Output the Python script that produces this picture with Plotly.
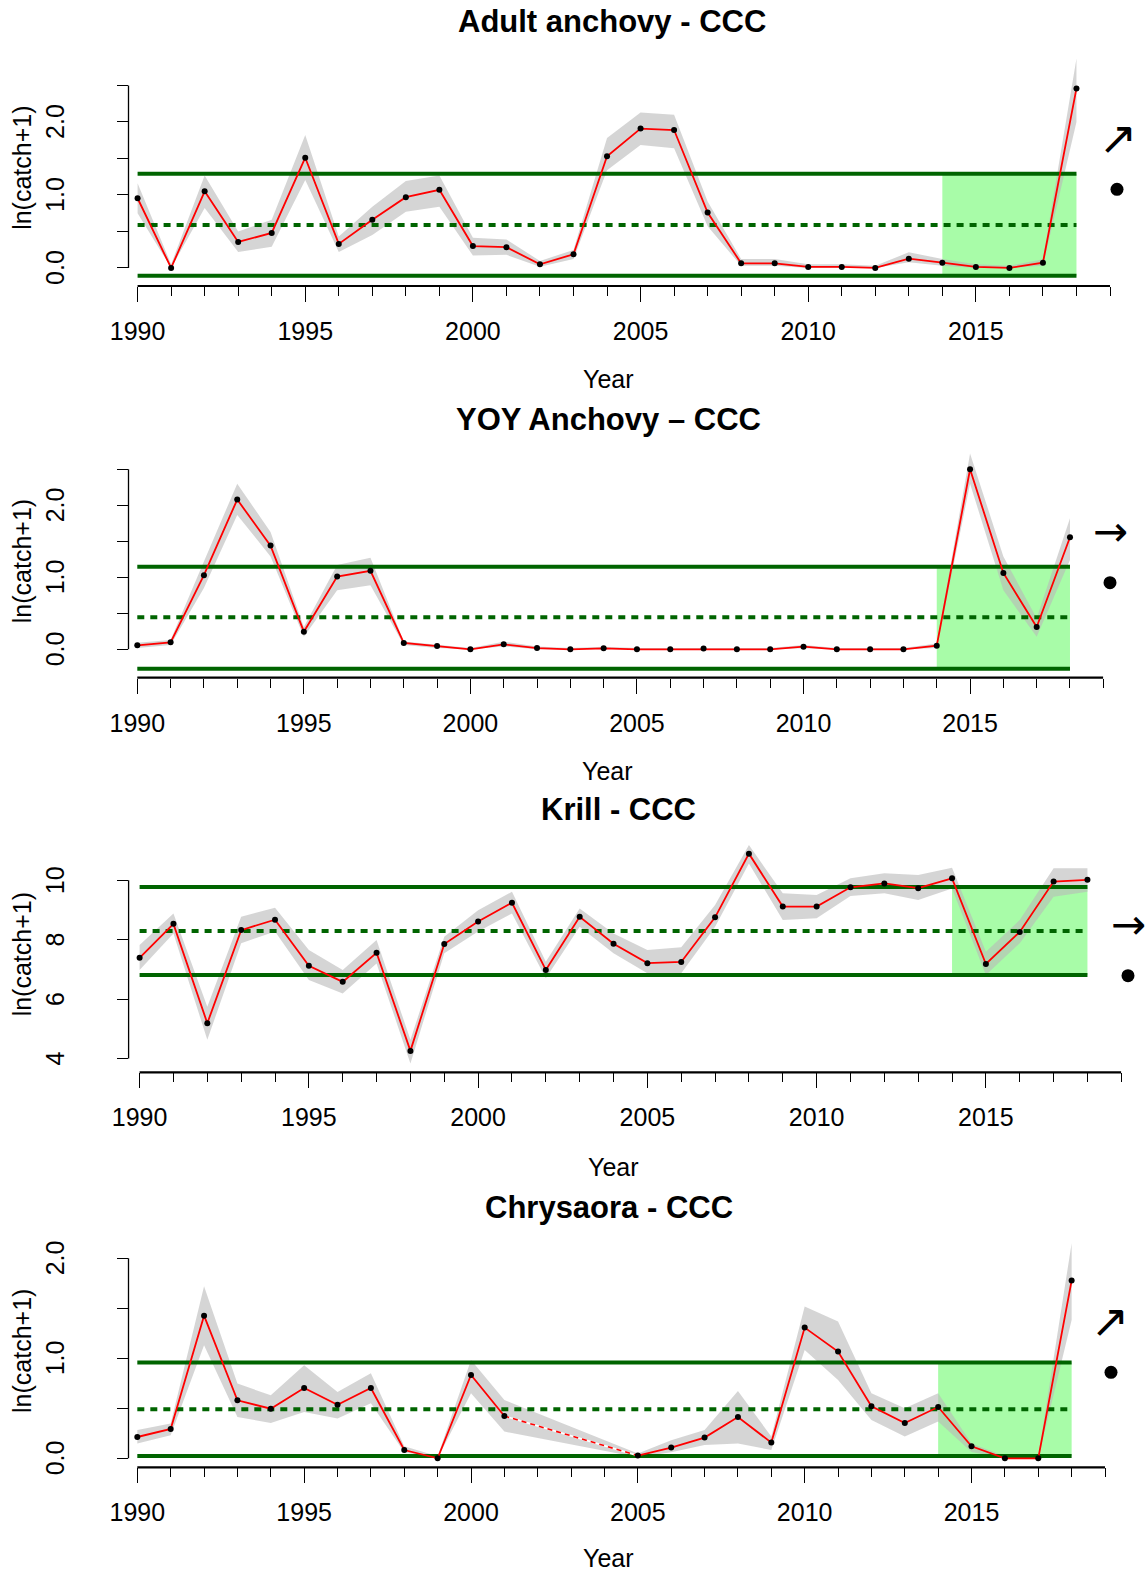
import plotly.graph_objects as go

W, H = 1148, 1575
FONT = "Liberation Sans, Arial, sans-serif"

years = list(range(1990, 2019))
axis_years = list(range(1990, 2020))
label_years = [1990, 1995, 2000, 2005, 2010, 2015]

# ---------------- data ----------------
adult_title = "Adult anchovy - CCC"
adult_mean = [0.955, 0.0, 1.05, 0.356, 0.48, 1.51, 0.33, 0.66, 0.97, 1.07, 0.30, 0.285, 0.05, 0.188,
              1.53, 1.91, 1.89, 0.76, 0.064, 0.064, 0.014, 0.014, 0.0, 0.128, 0.073, 0.014, 0.0, 0.073, 2.46]
adult_upper = [1.16, 0.05, 1.265, 0.50, 0.66, 1.82, 0.43, 0.84, 1.19, 1.265, 0.415, 0.39, 0.096, 0.247,
               1.78, 2.13, 2.10, 0.91, 0.123, 0.123, 0.05, 0.05, 0.03, 0.215, 0.123, 0.05, 0.03, 0.12, 2.87]
adult_lower = [0.75, 0.0, 0.82, 0.22, 0.29, 1.205, 0.22, 0.45, 0.77, 0.84, 0.17, 0.18, 0.018, 0.123,
               1.34, 1.685, 1.64, 0.57, 0.03, 0.03, 0.0, 0.0, 0.0, 0.078, 0.03, 0.0, 0.0, 0.03, 2.0]
adult_ref = [0.59, 1.29, -0.105]          # long-term mean, mean+sd, mean-sd
adult_yticks = [0.0, 0.5, 1.0, 1.5, 2.0, 2.5]
adult_ylabels = ["0.0", "1.0", "2.0"]
adult_trend = "↗"

yoy_title = "YOY Anchovy – CCC"
yoy_mean = [0.056, 0.097, 1.03, 2.08, 1.44, 0.245, 1.01, 1.09, 0.088, 0.046, 0.0, 0.069, 0.018, 0.0,
            0.014, 0.0, 0.0, 0.01, 0.0, 0.0, 0.037, 0.0, 0.0, 0.0, 0.05, 2.50, 1.06, 0.31, 1.556]
yoy_upper = [0.09, 0.13, 1.22, 2.30, 1.63, 0.31, 1.17, 1.27, 0.11, 0.07, 0.02, 0.105, 0.04, 0.02,
             0.035, 0.02, 0.02, 0.03, 0.02, 0.02, 0.06, 0.02, 0.02, 0.02, 0.08, 2.72, 1.29, 0.43, 1.82]
yoy_lower = [0.02, 0.06, 0.85, 1.865, 1.29, 0.175, 0.82, 0.89, 0.06, 0.02, 0.0, 0.04, 0.0, 0.0,
             0.0, 0.0, 0.0, 0.0, 0.0, 0.0, 0.015, 0.0, 0.0, 0.0, 0.02, 2.3, 0.82, 0.175, 1.24]
yoy_ref = [0.444, 1.147, -0.27]
yoy_yticks = [0.0, 0.5, 1.0, 1.5, 2.0, 2.5]
yoy_ylabels = ["0.0", "1.0", "2.0"]
yoy_trend = "→"

krill_title = "Krill - CCC"
krill_mean = [7.39, 8.53, 5.19, 8.32, 8.67, 7.12, 6.58, 7.56, 4.26, 7.85, 8.61, 9.24, 6.98, 8.77,
              7.86, 7.21, 7.25, 8.75, 10.89, 9.11, 9.11, 9.76, 9.89, 9.73, 10.06, 7.18, 8.26, 9.95, 10.01]
krill_upper = [7.82, 8.88, 5.74, 8.77, 9.07, 7.65, 6.98, 7.99, 4.63, 8.10, 8.99, 9.61, 7.26, 9.05,
               8.21, 7.65, 7.74, 9.16, 11.18, 9.56, 9.50, 10.06, 10.23, 10.17, 10.42, 7.59, 8.66, 10.4, 10.4]
krill_lower = [6.98, 8.21, 4.63, 7.88, 8.27, 6.64, 6.19, 7.2, 3.84, 7.54, 8.27, 8.88, 6.70, 8.43,
               7.54, 6.87, 6.87, 8.43, 10.56, 8.66, 8.72, 9.47, 9.56, 9.33, 9.72, 6.81, 7.88, 9.44, 9.61]
krill_ref = [8.29, 9.765, 6.81]
krill_yticks = [4, 6, 8, 10]
krill_ylabels = ["4", "6", "8", "10"]
krill_trend = "→"

chry_title = "Chrysaora - CCC"
chry_mean = [0.213, 0.293, 1.426, 0.58, 0.496, 0.703, 0.536, 0.703, 0.083, 0.0, 0.833, 0.423, None, None,
             None, 0.027, 0.107, 0.207, 0.413, 0.157, 1.307, 1.067, 0.52, 0.353, 0.513, 0.12, 0.0, 0.0, 1.777]
chry_upper = [0.283, 0.347, 1.72, 0.747, 0.63, 0.93, 0.663, 0.85, 0.12, 0.02, 0.983, 0.583, None, None,
              None, 0.047, 0.18, 0.283, 0.673, 0.217, 1.517, 1.367, 0.65, 0.5, 0.65, 0.147, 0.02, 0.02, 2.15]
chry_lower = [0.147, 0.23, 1.13, 0.413, 0.353, 0.463, 0.397, 0.55, 0.06, 0.0, 0.65, 0.267, None, None,
              None, 0.01, 0.06, 0.133, 0.147, 0.083, 1.083, 0.783, 0.383, 0.217, 0.367, 0.063, 0.0, 0.0, 1.383]
chry_ref = [0.49, 0.957, 0.023]
chry_yticks = [0.0, 0.5, 1.0, 1.5, 2.0]
chry_ylabels = ["0.0", "1.0", "2.0"]
chry_trend = "↗"

# ---------------- layout geometry (pixels) ----------------
panels = [
    dict(title=adult_title, mean=adult_mean, upper=adult_upper, lower=adult_lower, ref=adult_ref,
         yticks=adult_yticks, ylabels=adult_ylabels, trend=adult_trend,
         xpx=(128.5, 1110.0), xr=(1989.729, 2019), ypx=(49.7, 286), yr=(-0.247, 2.99),
         title_xy=(612, 22), year_xy=(608, 379), arrow_xy=(1118, 138), dot_xy=(1117, 189.3)),
    dict(title=yoy_title, mean=yoy_mean, upper=yoy_upper, lower=yoy_lower, ref=yoy_ref,
         yticks=yoy_yticks, ylabels=yoy_ylabels, trend=yoy_trend,
         xpx=(128.5, 1103.3), xr=(1989.736, 2019), ypx=(444.8, 677.7), yr=(-0.394, 2.84),
         title_xy=(608, 419), year_xy=(607, 771), arrow_xy=(1110, 531.7), dot_xy=(1110, 582.7)),
    dict(title=krill_title, mean=krill_mean, upper=krill_upper, lower=krill_lower, ref=krill_ref,
         yticks=krill_yticks, ylabels=krill_ylabels, trend=krill_trend,
         xpx=(128.6, 1121.3), xr=(1989.675, 2019), ypx=(836.4, 1072.3), yr=(3.54, 11.47),
         title_xy=(618, 809), year_xy=(613, 1167), arrow_xy=(1128, 924), dot_xy=(1128, 975.7)),
    dict(title=chry_title, mean=chry_mean, upper=chry_upper, lower=chry_lower, ref=chry_ref,
         yticks=chry_yticks, ylabels=chry_ylabels, trend=chry_trend,
         xpx=(128.5, 1105.0), xr=(1989.736, 2019), ypx=(1234.7, 1467.3), yr=(-0.09, 2.236),
         title_xy=(609, 1207), year_xy=(608, 1558), arrow_xy=(1110, 1321), dot_xy=(1111, 1372.3)),
]

def px(x):
    return x / W

def py(y):
    return 1 - y / H

fig = go.Figure()
layout = dict(width=W, height=H, margin=dict(l=0, r=0, t=0, b=0, pad=0, autoexpand=False),
              paper_bgcolor="white", plot_bgcolor="white", showlegend=False,
              font=dict(family=FONT, color="black"))
shapes = []
annotations = []

GREEN = "#006400"
RIBBON = "rgba(185,185,185,0.6)"
LIGHTGREEN = "rgb(168,252,168)"

for i, p in enumerate(panels, start=1):
    xa = "x" if i == 1 else f"x{i}"
    ya = "y" if i == 1 else f"y{i}"
    xkey = "xaxis" if i == 1 else f"xaxis{i}"
    ykey = "yaxis" if i == 1 else f"yaxis{i}"

    layout[xkey] = dict(domain=[px(p["xpx"][0]), px(p["xpx"][1])], range=list(p["xr"]), anchor=ya,
                        showgrid=False, zeroline=False, showline=False, automargin=False,
                        tickmode="array", tickvals=label_years, ticktext=[str(v) for v in label_years],
                        ticks="outside", ticklen=15, tickwidth=1.3, tickcolor="black",
                        minor=dict(tickvals=axis_years, ticks="outside", ticklen=9, tickwidth=1.3,
                                   tickcolor="black", showgrid=False),
                        tickfont=dict(size=25, family=FONT, color="black"), ticklabelstandoff=8,
                        fixedrange=True)
    layout[ykey] = dict(domain=[py(p["ypx"][1]), py(p["ypx"][0])], range=list(p["yr"]), anchor=xa,
                        showgrid=False, zeroline=False, showline=False, automargin=False,
                        tickmode="array", tickvals=p["yticks"], showticklabels=False,
                        ticks="outside", ticklen=11, tickwidth=1.3, tickcolor="black", fixedrange=True)

    mean, up, lo = p["mean"], p["upper"], p["lower"]
    m_ref, hi_ref, lo_ref = p["ref"]

    # last-5-years status window
    shapes.append(dict(type="rect", xref=xa, yref=ya, x0=years[-5], x1=years[-1], y0=lo_ref, y1=hi_ref,
                       fillcolor=LIGHTGREEN, line=dict(width=0), layer="below"))

    # ribbon
    vx = [yr for yr, u in zip(years, up) if u is not None]
    vu = [u for u in up if u is not None]
    vl = [l for l in lo if l is not None]
    fig.add_trace(go.Scatter(x=vx + vx[::-1], y=vu + vl[::-1], fill="toself", fillcolor=RIBBON,
                             line=dict(width=0), mode="lines", hoverinfo="skip", xaxis=xa, yaxis=ya))

    # reference lines
    for val, dash in [(hi_ref, "solid"), (lo_ref, "solid"), (m_ref, "7px,6px")]:
        fig.add_trace(go.Scatter(x=[years[0], years[-1]], y=[val, val], mode="lines",
                                 line=dict(color=GREEN, width=4, dash=dash), hoverinfo="skip",
                                 xaxis=xa, yaxis=ya))

    # gap connector (dashed) across missing years
    idx_valid = [k for k, v in enumerate(mean) if v is not None]
    for a, b in zip(idx_valid[:-1], idx_valid[1:]):
        if b - a > 1:
            gx = [years[a], years[b]]
            gy = [mean[a], mean[b]]
            fig.add_trace(go.Scatter(x=gx, y=gy, mode="lines", line=dict(color="white", width=1.8),
                                     hoverinfo="skip", xaxis=xa, yaxis=ya))
            fig.add_trace(go.Scatter(x=gx, y=gy, mode="lines",
                                     line=dict(color="red", width=1.6, dash="5px,4px"),
                                     hoverinfo="skip", xaxis=xa, yaxis=ya))

    # series
    fig.add_trace(go.Scatter(x=years, y=mean, mode="lines+markers", connectgaps=False,
                             line=dict(color="red", width=1.8),
                             marker=dict(color="black", size=6), xaxis=xa, yaxis=ya))

    # axis lines (from first to last tick like base R)
    shapes.append(dict(type="line", xref=xa, yref=f"{ya} domain", x0=axis_years[0], x1=axis_years[-1],
                       y0=0, y1=0, line=dict(color="black", width=2.2)))
    shapes.append(dict(type="line", xref=f"{xa} domain", yref=ya, x0=0, x1=0,
                       y0=p["yticks"][0], y1=p["yticks"][-1], line=dict(color="black", width=1.3)))

    # y tick labels (rotated, like base R)
    for lab in p["ylabels"]:
        annotations.append(dict(text=lab, xref="paper", yref=ya, x=px(55), y=float(lab),
                                showarrow=False, textangle=-90, xanchor="center", yanchor="middle",
                                font=dict(size=25, family=FONT, color="black")))

    # titles and axis titles
    annotations.append(dict(text=f"<b>{p['title']}</b>", xref="paper", yref="paper",
                            x=px(p["title_xy"][0]), y=py(p["title_xy"][1]), showarrow=False,
                            xanchor="center", yanchor="middle",
                            font=dict(size=31, family=FONT, color="black")))
    annotations.append(dict(text="Year", xref="paper", yref="paper",
                            x=px(p["year_xy"][0]), y=py(p["year_xy"][1]), showarrow=False,
                            xanchor="center", yanchor="middle",
                            font=dict(size=25, family=FONT, color="black")))
    annotations.append(dict(text="ln(catch+1)", xref="paper", yref="paper",
                            x=px(22), y=py((p["ypx"][0] + p["ypx"][1]) / 2), showarrow=False,
                            textangle=-90, xanchor="center", yanchor="middle",
                            font=dict(size=25, family=FONT, color="black")))

    # trend arrow and status dot
    annotations.append(dict(text=p["trend"], xref="paper", yref="paper",
                            x=px(p["arrow_xy"][0]), y=py(p["arrow_xy"][1]), showarrow=False,
                            xanchor="center", yanchor="middle",
                            font=dict(size=46 if p["trend"] == "↗" else 42,
                                      family="DejaVu Sans", color="black")))
    dx, dy = p["dot_xy"]
    shapes.append(dict(type="circle", xref="paper", yref="paper", x0=px(dx - 6.5), x1=px(dx + 6.5),
                       y0=py(dy + 6.5), y1=py(dy - 6.5), fillcolor="black", line=dict(width=0)))

layout["shapes"] = shapes
layout["annotations"] = annotations
fig.update_layout(**layout)
fig.write_html("out.html", config={"displayModeBar": False},
               post_script="document.body.style.margin='0';document.body.style.overflow='hidden';")
